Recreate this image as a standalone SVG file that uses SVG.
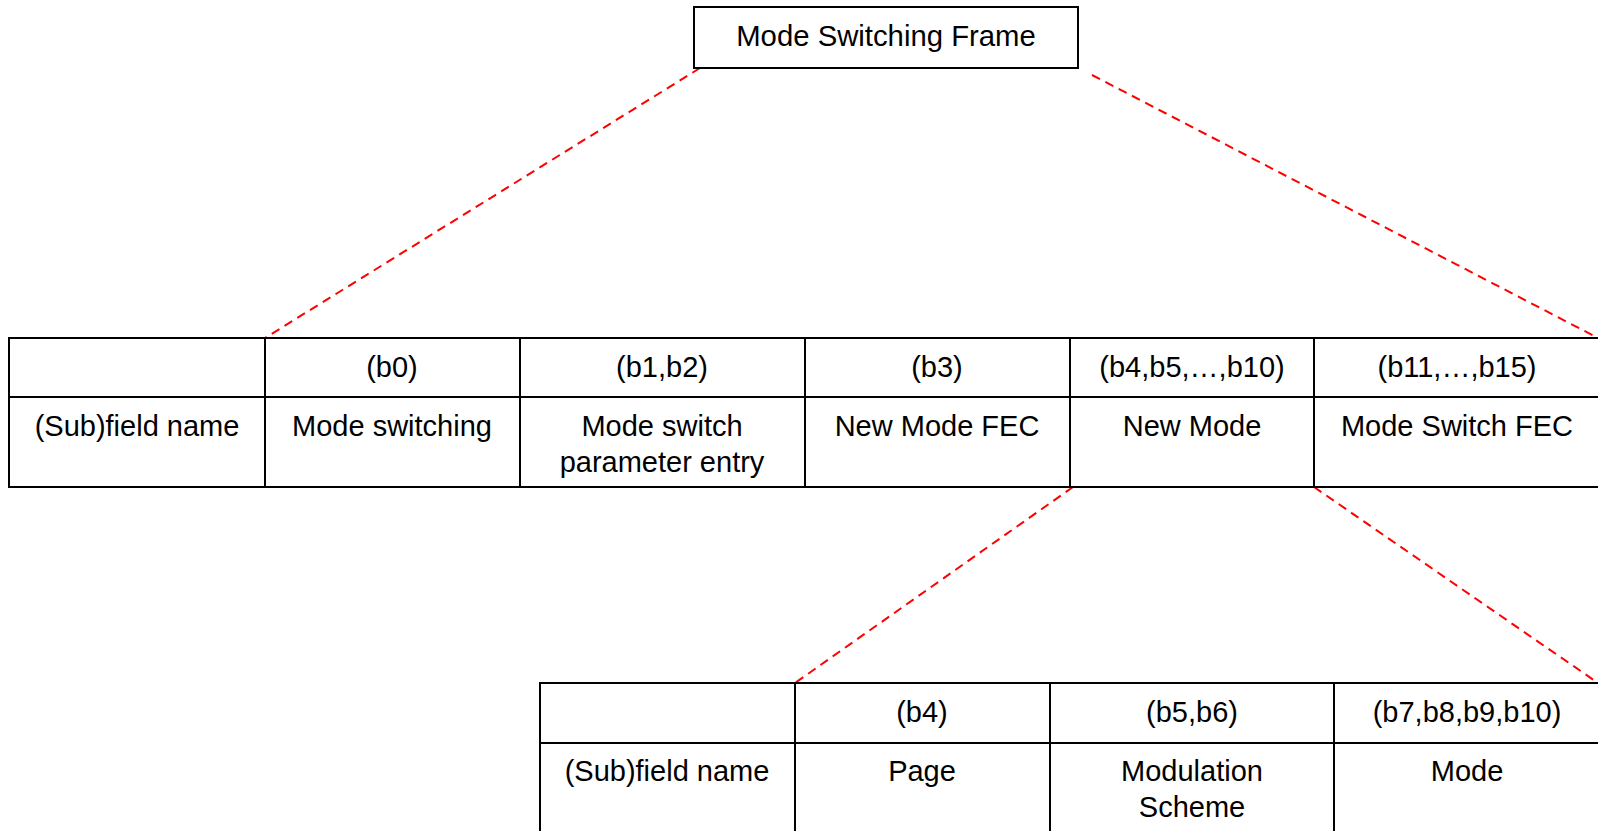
<svg xmlns="http://www.w3.org/2000/svg" width="1598" height="831" viewBox="0 0 1598 831">
  <style>
    .box { fill: #ffffff; stroke: #000000; stroke-width: 2; }
    .grid { fill: none; stroke: #000000; stroke-width: 2; }
    .t { font-family: "Liberation Sans", Arial, sans-serif; font-size: 29px; fill: #000000; text-anchor: middle; }
    .conn { fill: none; stroke: #ff0000; stroke-width: 2; stroke-dasharray: 9 6; }
  </style>
  <rect x="0" y="0" width="1598" height="831" fill="#ffffff"/>

  <g id="connectors">
    <line class="conn" x1="700" y1="68" x2="265" y2="338"/>
    <line class="conn" x1="1092" y1="75" x2="1598" y2="338"/>
    <line class="conn" x1="1073" y1="487" x2="795" y2="683"/>
    <line class="conn" x1="1314" y1="487" x2="1598" y2="683"/>
  </g>

  <g id="mode-switching-frame">
    <rect class="box" x="694" y="7" width="384" height="61"/>
    <text class="t" x="886" y="46" style="font-size:29.3px">Mode Switching Frame</text>
  </g>

  <g id="table-frame">
    <rect class="grid" x="9" y="338" width="1601" height="149"/>
    <line class="grid" x1="9" y1="397" x2="1610" y2="397"/>
    <line class="grid" x1="265" y1="338" x2="265" y2="487"/>
    <line class="grid" x1="520" y1="338" x2="520" y2="487"/>
    <line class="grid" x1="805" y1="338" x2="805" y2="487"/>
    <line class="grid" x1="1070" y1="338" x2="1070" y2="487"/>
    <line class="grid" x1="1314" y1="338" x2="1314" y2="487"/>
    <g id="f-label"><text class="t" x="137" y="436">(Sub)field name</text></g>
    <g id="f-b0"><text class="t" x="392" y="377">(b0)</text><text class="t" x="392" y="436">Mode switching</text></g>
    <g id="f-b1b2"><text class="t" x="662" y="377">(b1,b2)</text><text class="t" x="662" y="436">Mode switch</text><text class="t" x="662" y="472">parameter entry</text></g>
    <g id="f-b3"><text class="t" x="937" y="377">(b3)</text><text class="t" x="937" y="436">New Mode FEC</text></g>
    <g id="f-b4b10"><text class="t" x="1192" y="377">(b4,b5,…,b10)</text><text class="t" x="1192" y="436">New Mode</text></g>
    <g id="f-b11b15"><text class="t" x="1457" y="377">(b11,…,b15)</text><text class="t" x="1457" y="436">Mode Switch FEC</text></g>
  </g>

  <g id="table-newmode">
    <rect class="grid" x="540" y="683" width="1070" height="160"/>
    <line class="grid" x1="540" y1="743" x2="1610" y2="743"/>
    <line class="grid" x1="795" y1="683" x2="795" y2="843"/>
    <line class="grid" x1="1050" y1="683" x2="1050" y2="843"/>
    <line class="grid" x1="1334" y1="683" x2="1334" y2="843"/>
    <g id="n-label"><text class="t" x="667" y="781">(Sub)field name</text></g>
    <g id="n-b4"><text class="t" x="922" y="722">(b4)</text><text class="t" x="922" y="781">Page</text></g>
    <g id="n-b5b6"><text class="t" x="1192" y="722">(b5,b6)</text><text class="t" x="1192" y="781">Modulation</text><text class="t" x="1192" y="817">Scheme</text></g>
    <g id="n-b7b10"><text class="t" x="1467" y="722">(b7,b8,b9,b10)</text><text class="t" x="1467" y="781">Mode</text></g>
  </g>
</svg>
